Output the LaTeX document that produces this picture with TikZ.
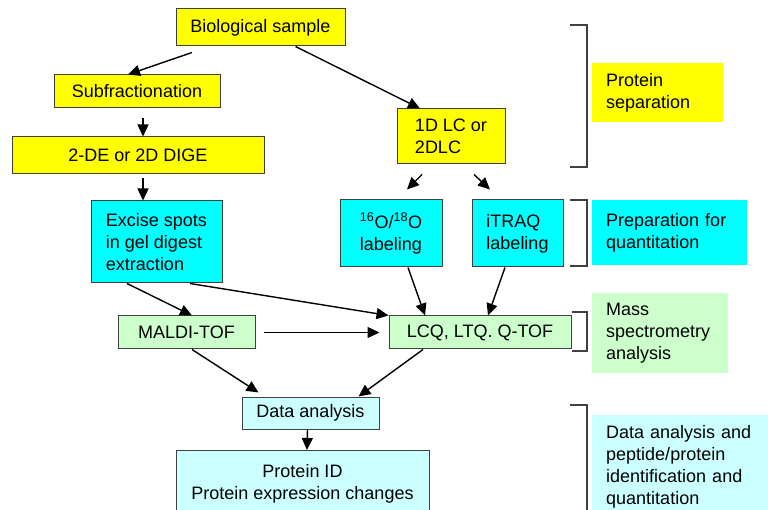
\documentclass[tikz,border=0pt]{standalone}
\usepackage{fontspec}
\setmainfont{Liberation Sans}
\usepackage{tikz}
\usetikzlibrary{arrows.meta,positioning,calc}
\definecolor{sepyellow}{RGB}{255,255,0}
\definecolor{quantcyan}{RGB}{0,255,255}
\definecolor{msgreen}{RGB}{204,255,204}
\definecolor{datacyan}{RGB}{204,255,255}
\definecolor{edgegray}{RGB}{64,64,64}

\begin{document}
\begin{tikzpicture}[
    x=1pt, y=-1pt,
    every node/.style={align=center, font=\fontsize{18}{22}\selectfont},
    stage/.style={rectangle, draw=edgegray, line width=1pt, inner sep=0pt},
    separation/.style={stage, fill=sepyellow},
    quant/.style={stage, fill=quantcyan},
    massspec/.style={stage, fill=msgreen},
    result/.style={stage, fill=datacyan},
    tag/.style={rectangle, anchor=north west, align=left, inner xsep=14pt, inner ysep=0pt},
    bracket/.style={draw=edgegray, line width=1.2pt},
    arrow/.style={line width=1.4pt, -{Triangle[length=12pt,width=11pt]}}
]

\clip (0,0) rectangle (768,510);
\fill[white] (0,0) rectangle (768,510);

% Protein separation
\node[separation, minimum width=169pt, minimum height=37pt] (sample) at (260.5,27.5) {Biological sample};
\node[separation, minimum width=166pt, minimum height=33pt] (subfrac) at (137,91.5) {Subfractionation};
\node[separation, minimum width=252pt, minimum height=37pt] (dige) at (138,155.5) {2-DE or 2D DIGE};
\node[separation, minimum width=108pt, minimum height=55pt, align=left] (lc) at (451,136.5) {1D LC or\\2DLC};

% Preparation for quantitation
\node[quant, minimum width=131pt, minimum height=82pt, align=left] (excise) at (156.5,242) {Excise spots\\in gel digest\\extraction};
\node[quant, minimum width=102pt, minimum height=67pt] (oxygen) at (391,233.5) {\textsuperscript{16}O/\textsuperscript{18}O\\labeling};
\node[quant, minimum width=91pt, minimum height=67pt, align=left] (itraq) at (517.5,233.5) {iTRAQ\\labeling};

% Mass spectrometry
\node[massspec, minimum width=137pt, minimum height=33pt] (maldi) at (186.5,332.5) {MALDI-TOF};
\node[massspec, minimum width=182pt, minimum height=33pt] (lcq) at (480,332.5) {LCQ, LTQ. Q-TOF};

% Data analysis
\node[result, minimum width=137pt, minimum height=32pt] (data) at (310.5,413) {Data analysis};
\node[result, minimum width=253pt, minimum height=66pt, anchor=north] (protein) at (302.5,450) {Protein ID\\Protein expression changes};

% Stage labels
\node[tag, fill=sepyellow, text width=103pt, minimum width=131pt, minimum height=59pt] (septag) at (592,63) {Protein\\separation};
\node[tag, fill=quantcyan, text width=127pt, minimum width=155pt, minimum height=65pt] (quanttag) at (592,200) {Preparation for\\quantitation};
\node[tag, fill=msgreen, text width=108pt, minimum width=136pt, minimum height=80pt] (mstag) at (592,293) {Mass\\spectrometry\\analysis};
\node[tag, fill=datacyan, text width=152pt, minimum width=180pt, inner ysep=10pt] (datatag) at (592,415) {Data analysis and\\peptide/protein\\identification and\\quantitation};

% Brackets
\draw[bracket] (570,25) -- (587,25) -- (587,167) -- (570,167);
\draw[bracket] (570,200) -- (587,200) -- (587,266) -- (570,266);
\draw[bracket] (572,312) -- (587,312) -- (587,351) -- (572,351);
\draw[bracket] (570,405) -- (587,405) -- (587,520);

% Connections
\draw[arrow] ([xshift=-68.5pt,yshift=-6pt]sample.south) -- ([xshift=-9pt]subfrac.north);
\draw[arrow] ([xshift=35pt]sample.south) -- ([xshift=-31pt]lc.north);
\draw[arrow] ([xshift=6pt,yshift=-10pt]subfrac.south) -- ([xshift=5pt]dige.north);
\draw[arrow] ([xshift=-13.5pt,yshift=-4pt]excise.north |- dige.south) -- ([xshift=-13.5pt]excise.north);
\draw[arrow] ([xshift=-29pt,yshift=-10pt]lc.south) -- ([xshift=16pt,yshift=10pt]oxygen.north);
\draw[arrow] ([xshift=23pt,yshift=-10pt]lc.south) -- ([xshift=-27.5pt,yshift=10pt]itraq.north);

\draw[arrow] ([xshift=-29.5pt]excise.south) -- ([xshift=5.5pt]maldi.north);
\draw[arrow] ([xshift=33.5pt]excise.south) -- (lcq.north west);
\draw[arrow] ([xshift=17pt]oxygen.south) -- ([xshift=-55pt]lcq.north);
\draw[arrow] ([xshift=-12.5pt]itraq.south) -- ([xshift=8pt]lcq.north);
\draw[arrow, shorten <=8pt, shorten >=9pt] (maldi.east) -- (lcq.west);

\draw[arrow] ([xshift=5.5pt]maldi.south) -- ([xshift=-52pt,yshift=4pt]data.north);
\draw[arrow] ([xshift=-57pt]lcq.south) -- ([xshift=48pt]data.north);
\draw[arrow] ([xshift=-3pt]data.south) -- ([xshift=4.5pt]protein.north);

\end{tikzpicture}
\end{document}
